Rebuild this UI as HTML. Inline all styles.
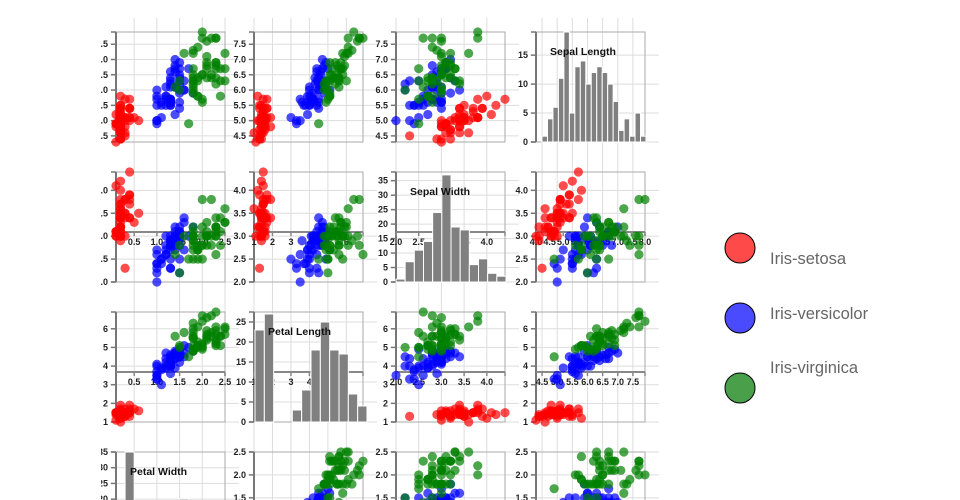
<!DOCTYPE html>
<html><head><meta charset="utf-8"><style>
html,body{margin:0;padding:0;background:#fff;width:960px;height:500px;overflow:hidden;}
svg{display:block;font-family:"Liberation Sans",sans-serif;overflow:hidden;}
</style></head><body>
<svg id="chart" width="960" height="500" viewBox="0 0 960 500"></svg>
<script>
// Iris data: sepal length, sepal width, petal length, petal width
const setosa = [[5.1,3.5,1.4,0.2],[4.9,3.0,1.4,0.2],[4.7,3.2,1.3,0.2],[4.6,3.1,1.5,0.2],[5.0,3.6,1.4,0.2],[5.4,3.9,1.7,0.4],[4.6,3.4,1.4,0.3],[5.0,3.4,1.5,0.2],[4.4,2.9,1.4,0.2],[4.9,3.1,1.5,0.1],[5.4,3.7,1.5,0.2],[4.8,3.4,1.6,0.2],[4.8,3.0,1.4,0.1],[4.3,3.0,1.1,0.1],[5.8,4.0,1.2,0.2],[5.7,4.4,1.5,0.4],[5.4,3.9,1.3,0.4],[5.1,3.5,1.4,0.3],[5.7,3.8,1.7,0.3],[5.1,3.8,1.5,0.3],[5.4,3.4,1.7,0.2],[5.1,3.7,1.5,0.4],[4.6,3.6,1.0,0.2],[5.1,3.3,1.7,0.5],[4.8,3.4,1.9,0.2],[5.0,3.0,1.6,0.2],[5.0,3.4,1.6,0.4],[5.2,3.5,1.5,0.2],[5.2,3.4,1.4,0.2],[4.7,3.2,1.6,0.2],[4.8,3.1,1.6,0.2],[5.4,3.4,1.5,0.4],[5.2,4.1,1.5,0.1],[5.5,4.2,1.4,0.2],[4.9,3.1,1.5,0.1],[5.0,3.2,1.2,0.2],[5.5,3.5,1.3,0.2],[4.9,3.1,1.5,0.1],[4.4,3.0,1.3,0.2],[5.1,3.4,1.5,0.2],[5.0,3.5,1.3,0.3],[4.5,2.3,1.3,0.3],[4.4,3.2,1.3,0.2],[5.0,3.5,1.6,0.6],[5.1,3.8,1.9,0.4],[4.8,3.0,1.4,0.3],[5.1,3.8,1.6,0.2],[4.6,3.2,1.4,0.2],[5.3,3.7,1.5,0.2],[5.0,3.3,1.4,0.2]];
const versicolor = [[7.0,3.2,4.7,1.4],[6.4,3.2,4.5,1.5],[6.9,3.1,4.9,1.5],[5.5,2.3,4.0,1.3],[6.5,2.8,4.6,1.5],[5.7,2.8,4.5,1.3],[6.3,3.3,4.7,1.6],[4.9,2.4,3.3,1.0],[6.6,2.9,4.6,1.3],[5.2,2.7,3.9,1.4],[5.0,2.0,3.5,1.0],[5.9,3.0,4.2,1.5],[6.0,2.2,4.0,1.0],[6.1,2.9,4.7,1.4],[5.6,2.9,3.6,1.3],[6.7,3.1,4.4,1.4],[5.6,3.0,4.5,1.5],[5.8,2.7,4.1,1.0],[6.2,2.2,4.5,1.5],[5.6,2.5,3.9,1.1],[5.9,3.2,4.8,1.8],[6.1,2.8,4.0,1.3],[6.3,2.5,4.9,1.5],[6.1,2.8,4.7,1.2],[6.4,2.9,4.3,1.3],[6.6,3.0,4.4,1.4],[6.8,2.8,4.8,1.4],[6.7,3.0,5.0,1.7],[6.0,2.9,4.5,1.5],[5.7,2.6,3.5,1.0],[5.5,2.4,3.8,1.1],[5.5,2.4,3.7,1.0],[5.8,2.7,3.9,1.2],[6.0,2.7,5.1,1.6],[5.4,3.0,4.5,1.5],[6.0,3.4,4.5,1.6],[6.7,3.1,4.7,1.5],[6.3,2.3,4.4,1.3],[5.6,3.0,4.1,1.3],[5.5,2.5,4.0,1.3],[5.5,2.6,4.4,1.2],[6.1,3.0,4.6,1.4],[5.8,2.6,4.0,1.2],[5.0,2.3,3.3,1.0],[5.6,2.7,4.2,1.3],[5.7,3.0,4.2,1.2],[5.7,2.9,4.2,1.3],[6.2,2.9,4.3,1.3],[5.1,2.5,3.0,1.1],[5.7,2.8,4.1,1.3]];
const virginica = [[6.3,3.3,6.0,2.5],[5.8,2.7,5.1,1.9],[7.1,3.0,5.9,2.1],[6.3,2.9,5.6,1.8],[6.5,3.0,5.8,2.2],[7.6,3.0,6.6,2.1],[4.9,2.5,4.5,1.7],[7.3,2.9,6.3,1.8],[6.7,2.5,5.8,1.8],[7.2,3.6,6.1,2.5],[6.5,3.2,5.1,2.0],[6.4,2.7,5.3,1.9],[6.8,3.0,5.5,2.1],[5.7,2.5,5.0,2.0],[5.8,2.8,5.1,2.4],[6.4,3.2,5.3,2.3],[6.5,3.0,5.5,1.8],[7.7,3.8,6.7,2.2],[7.7,2.6,6.9,2.3],[6.0,2.2,5.0,1.5],[6.9,3.2,5.7,2.3],[5.6,2.8,4.9,2.0],[7.7,2.8,6.7,2.0],[6.3,2.7,4.9,1.8],[6.7,3.3,5.7,2.1],[7.2,3.2,6.0,1.8],[6.2,2.8,4.8,1.8],[6.1,3.0,4.9,1.8],[6.4,2.8,5.6,2.1],[7.2,3.0,5.8,1.6],[7.4,2.8,6.1,1.9],[7.9,3.8,6.4,2.0],[6.4,2.8,5.6,2.2],[6.3,2.8,5.1,1.5],[6.1,2.6,5.6,1.4],[7.7,3.0,6.1,2.3],[6.3,3.4,5.6,2.4],[6.4,3.1,5.5,1.8],[6.0,3.0,4.8,1.8],[6.9,3.1,5.4,2.1],[6.7,3.1,5.6,2.4],[6.9,3.1,5.1,2.3],[5.8,2.7,5.1,1.9],[6.8,3.2,5.9,2.3],[6.7,3.3,5.7,2.5],[6.7,3.0,5.2,2.3],[6.3,2.5,5.0,1.9],[6.5,3.0,5.2,2.0],[6.2,3.4,5.4,2.3],[5.9,3.0,5.1,1.8]];
const speciesNames = ["Iris-setosa","Iris-versicolor","Iris-virginica"];
const traitNames = ["Sepal Length","Sepal Width","Petal Length","Petal Width"];
const traitDomains = [[4.3,7.9],[2.0,4.4],[1.0,6.9],[0.1,2.5]];
const traitTicks = [[4.5,5.0,5.5,6.0,6.5,7.0,7.5],[2.0,2.5,3.0,3.5,4.0],[1,2,3,4,5,6],[0.5,1.0,1.5,2.0,2.5]];
const tickFmt = [1,1,0,1];
// histogram counts per trait
const histSepalLength = [1,4,6,11,19,5,13,14,10,12,13,12,10,7,2,4,1,5,1];
const histSepalWidth = [1,7,11,14,24,37,19,18,6,8,3,2];
const histPetalLength = [23,27,0,0,3,8,18,25,18,17,7,4];
const histPetalWidth = [6,35,8,2,0,7,16,20,14,11,14,17];
const histMax = [19,38,27.5,35];
const histTicks = [[0,5,10,15],[0,5,10,15,20,25,30,35],[0,5,10,15,20,25],[0,5,10,15,20,25,30,35]];

const NS="http://www.w3.org/2000/svg";
const svg=document.getElementById('chart');
function mk(tag,attrs,parent){const e=document.createElementNS(NS,tag);for(const k in attrs)e.setAttribute(k,attrs[k]);(parent||svg).appendChild(e);return e;}

const colVar=[3,2,1,0];
const colLeft=[116,254,396,536];
const rowTop=[32,172,312,452];
const W=109,H=110;
const colors=["rgba(255,0,0,0.7)","rgba(0,0,255,0.7)","rgba(0,128,0,0.7)"];
const allSpecies=[setosa,versicolor,virginica];
const hists=[histSepalLength,histSepalWidth,histPetalLength,histPetalWidth];
const histSpan=[[542,646],[396,506],[255,367],[116,225]];

function xs(v,c){const d=traitDomains[colVar[c]];return colLeft[c]+(v-d[0])/(d[1]-d[0])*W;}
function ys(v,r){const d=traitDomains[r];return rowTop[r]+H-(v-d[0])/(d[1]-d[0])*H;}

const grid=mk('g',{});


for(let r=0;r<4;r++)for(let c=0;c<4;c++){
  const L=colLeft[c],T=rowTop[r];
  traitTicks[colVar[c]].forEach(t=>{const x=xs(t,c);if(x<L-1||x>L+W+1)return;
    const l=mk('line',{x1:x,x2:x,y1:T-14,y2:Math.min(500,T+H+16),stroke:'#ddd','stroke-width':1},grid);
    });
  const diag = colVar[c]===r;
  const yt = diag?histTicks[r]:traitTicks[r];
  yt.forEach(t=>{const y=diag?T+H-t/histMax[r]*H:ys(t,r);if(y<T-1||y>T+H+1||y>500)return;
    const l=mk('line',{x1:L-6,x2:L+W+14,y1:y,y2:y,stroke:'#ddd','stroke-width':1},grid);
    });
}

for(let r=0;r<4;r++)for(let c=0;c<4;c++){
  const L=colLeft[c],T=rowTop[r];const v=colVar[c];const diag=v===r;
  const cell=mk('g',{});
  
  
  const box=mk('rect',{x:L,y:T,width:W,height:H,fill:'none',stroke:'#aaa','stroke-width':1},cell);
  
  const ya=mk('g',{},cell);
  mk('line',{x1:L,x2:L,y1:T,y2:T+H,stroke:'#777','stroke-width':2},ya);
  const yt=diag?histTicks[r]:traitTicks[r];
  yt.forEach(t=>{const y=diag?T+H-t/histMax[r]*H:ys(t,r);
    mk('line',{x1:L-5,x2:L,y1:y,y2:y,stroke:'#777','stroke-width':1.5},ya);
    const tx=mk('text',{x:L-8,y:y+3,'text-anchor':'end','font-size':9,'font-weight':'bold',fill:'#222'},ya);
    tx.textContent=diag?t:t.toFixed(tickFmt[r]);
    });
  mk('line',{x1:L-5,x2:L,y1:T,y2:T,stroke:'#777','stroke-width':1.5},ya);
  mk('line',{x1:L-5,x2:L,y1:T+H,y2:T+H,stroke:'#777','stroke-width':1.5},ya);
  if(r===1||r===2){
    const ay=T+60;
    const xa=mk('g',{},cell);
    mk('line',{x1:L,x2:L+W,y1:ay,y2:ay,stroke:'#888','stroke-width':2},xa);
    let ticks=traitTicks[v],dom=traitDomains[v];
    if(r===1&&c===3){ticks=[4.0,4.5,5.0,5.5,6.0,6.5,7.0,7.5,8.0];dom=[4,8];}
    ticks.forEach(t=>{const x=L+(t-dom[0])/(dom[1]-dom[0])*W;if(x<L-2||x>L+W+2)return;
      mk('line',{x1:x,x2:x,y1:ay,y2:ay+4,stroke:'#888','stroke-width':1.5},xa);
      const tx=mk('text',{x:x,y:ay+13,'text-anchor':'middle','font-size':9,'font-weight':'bold',fill:'#222'},xa);
      tx.textContent=t.toFixed(tickFmt[v]);
      });
    mk('line',{x1:L+W,x2:L+W,y1:ay,y2:ay+4,stroke:'#888','stroke-width':1.5},xa);
  }
  if(diag){
    const counts=hists[r];const sp=histSpan[r];const bw=(sp[1]-sp[0])/counts.length;
    counts.forEach((n,i)=>{const h=n/histMax[r]*H;
      const b=mk('rect',{x:sp[0]+i*bw,y:T+H-h,width:bw,height:h,fill:'#808080',stroke:'#fff','stroke-width':1},cell);
      });
    const tt=mk('text',{x:L+14,y:T+23,'font-size':10.5,'font-weight':'bold',fill:'#111'},cell);
    tt.textContent=traitNames[r];
    
  } else {
    allSpecies.forEach((sp,s)=>sp.forEach(p=>{
      const d=mk('circle',{cx:xs(p[v],c),cy:ys(p[r],r),r:4.6,fill:colors[s]},cell);
      
      }));
  }
}
const clip=mk('rect',{x:0,y:0,width:101,height:500,fill:'#fff'});


const legendFill=["#ff4a4a","#4a4aff","#4aa04a"];
const legendCy=[248,318,388];
const legendTy=[264,319,373];
const lg=mk('g',{});
speciesNames.forEach((n,i)=>{
  const e=mk('g',{},lg);
  
  
  mk('circle',{cx:740,cy:legendCy[i],r:15,fill:legendFill[i],stroke:'#000','stroke-width':1},e);
  const t=mk('text',{x:770,y:legendTy[i],'font-size':16.5,fill:'#666'},e);t.textContent=n;
});
</script>
</body></html>
